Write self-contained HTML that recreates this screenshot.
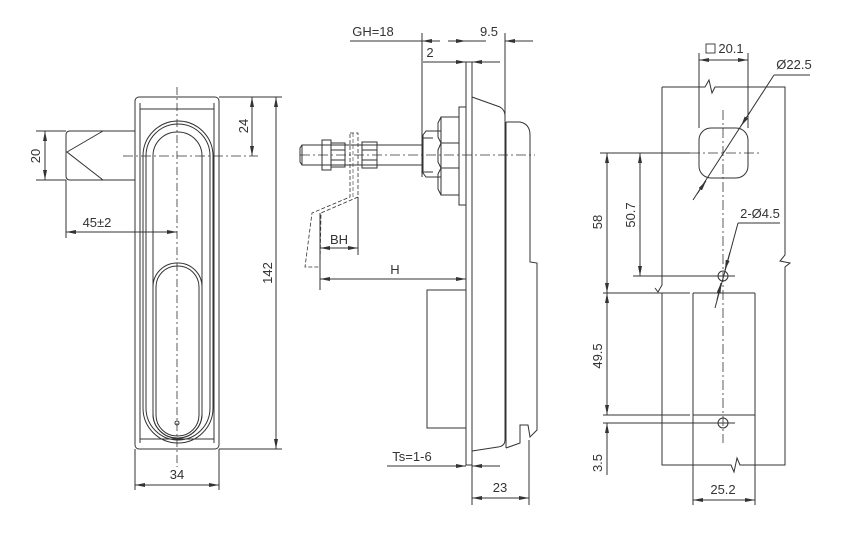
<!DOCTYPE html>
<html><head><style>
html,body{margin:0;padding:0;background:#fff;}
svg{display:block;}
text{font-family:"Liberation Sans",sans-serif;font-size:13px;fill:#333;}
</style></head><body>
<svg width="843" height="534" viewBox="0 0 843 534" xmlns="http://www.w3.org/2000/svg">
<defs>
<marker id="a" viewBox="0 0 10 4" refX="10" refY="2" markerWidth="10" markerHeight="4" markerUnits="userSpaceOnUse" orient="auto-start-reverse"><path d="M0,0 L10,2 L0,4 z" fill="#333"/></marker>
</defs>
<g fill="none" stroke="#333" stroke-width="1">
<!-- LEFT VIEW -->
<rect x="135" y="97" width="84" height="352" rx="4"/>
<line x1="140" y1="103" x2="140" y2="443"/><line x1="214" y1="103" x2="214" y2="443"/>
<line x1="140" y1="109" x2="214" y2="109"/><line x1="140" y1="439" x2="214" y2="439"/>
<rect x="143" y="121" width="70" height="322" rx="35"/>
<rect x="146" y="124" width="64" height="316" rx="32"/>
<rect x="153" y="132" width="49" height="306" rx="24"/>
<rect x="153" y="263" width="49" height="175" rx="24"/>
<rect x="156" y="266" width="43" height="170" rx="21"/>
<circle cx="177" cy="423" r="2"/>
<line x1="177" y1="87" x2="177" y2="467" stroke-dasharray="8,3,2,3" stroke-width="0.8"/>
<line x1="123" y1="156" x2="258" y2="156" stroke-dasharray="10,3,2,3" stroke-width="0.8"/>
<path d="M135,131 L70,131 Q66,131 66,135 L66,176 Q66,180 70,180 L135,180"/>
<path d="M103,131 L67,152 L103,180"/>
<line x1="36" y1="131" x2="66" y2="131"/><line x1="36" y1="180" x2="66" y2="180"/>
<line x1="45" y1="131" x2="45" y2="180" marker-start="url(#a)" marker-end="url(#a)"/>
<line x1="219" y1="97" x2="282" y2="97"/><line x1="219" y1="449" x2="282" y2="449"/>
<line x1="252" y1="97" x2="252" y2="156" marker-start="url(#a)" marker-end="url(#a)"/>
<line x1="276" y1="97" x2="276" y2="449" marker-start="url(#a)" marker-end="url(#a)"/>
<line x1="66" y1="180" x2="66" y2="238"/>
<line x1="66" y1="232" x2="177" y2="232" marker-start="url(#a)" marker-end="url(#a)"/>
<line x1="135" y1="449" x2="135" y2="490"/><line x1="219" y1="449" x2="219" y2="490"/>
<line x1="135" y1="485" x2="219" y2="485" marker-start="url(#a)" marker-end="url(#a)"/>

<!-- MIDDLE VIEW -->
<rect x="466" y="62" width="6" height="403"/>
<path d="M472,97 L500,107 Q505,110 505,116 L505,440 Q505,446 498,447 L472,451"/>
<path d="M506,122 L520,122 Q530,124 530,135 L530,262 L537,263 L537,430 L530,437 L528,425 L520,425 L520,443 L506,448"/>
<line x1="506" y1="122" x2="506" y2="448"/>
<rect x="459" y="107" width="7" height="98"/>
<path d="M459,117 L441,117 L438,123 L438,137 L441,143 L438,150 L438,162 L441,168 L438,174 L438,189 L441,195 L459,195"/>
<line x1="441" y1="117" x2="441" y2="195"/>
<line x1="441" y1="143" x2="459" y2="143"/><line x1="441" y1="168" x2="459" y2="168"/>
<path d="M441,131 L426,131 L423,135 L423,173 L426,177 L441,177"/>
<path d="M422,138 L433,138 M422,172 L433,172"/>
<line x1="422" y1="133" x2="422" y2="177"/>
<path d="M422,145 L302,145 L300,148 L300,162 L302,165 L422,165"/>
<line x1="302" y1="145" x2="302" y2="165"/>
<rect x="322" y="140" width="9" height="30"/><rect x="331" y="143" width="14" height="24"/>
<line x1="331" y1="150" x2="345" y2="150"/><line x1="331" y1="160" x2="345" y2="160"/>
<rect x="362" y="142" width="15" height="26"/>
<line x1="362" y1="150" x2="377" y2="150"/><line x1="362" y1="160" x2="377" y2="160"/>
<line x1="300" y1="155" x2="535" y2="155" stroke-dasharray="10,3,2,3" stroke-width="0.8"/>
<path d="M350,133 L358,133 L358,197 L321,213 L320,267 L305,267 L312,213 L350,197 Z" stroke-dasharray="4,2" stroke-width="0.8"/>
<line x1="353" y1="133" x2="353" y2="197" stroke-dasharray="4,2" stroke-width="0.6"/>
<line x1="358" y1="197" x2="358" y2="255"/>
<line x1="320" y1="213" x2="320" y2="290"/>
<line x1="320" y1="248" x2="358" y2="248" marker-start="url(#a)" marker-end="url(#a)"/>
<line x1="320" y1="279" x2="466" y2="279" marker-start="url(#a)" marker-end="url(#a)"/>
<path d="M466,290 L427,290 L427,428 L466,428"/>
<line x1="422" y1="33" x2="422" y2="133"/>
<line x1="505" y1="33" x2="505" y2="116"/>
<line x1="350" y1="41" x2="422" y2="41"/>
<line x1="422" y1="41" x2="440" y2="41" marker-start="url(#a)"/>
<line x1="448" y1="41" x2="466" y2="41" marker-end="url(#a)"/>
<line x1="466" y1="41" x2="472" y2="41"/>
<line x1="533" y1="41" x2="505" y2="41" marker-end="url(#a)"/>
<line x1="472" y1="41" x2="486" y2="41"/>
<line x1="423" y1="62" x2="466" y2="62" marker-end="url(#a)"/>
<line x1="500" y1="62" x2="472" y2="62" marker-end="url(#a)"/>
<line x1="387" y1="466" x2="466" y2="466" marker-end="url(#a)"/>
<line x1="500" y1="466" x2="472" y2="466" marker-end="url(#a)"/>
<line x1="472" y1="465" x2="472" y2="505"/><line x1="529" y1="440" x2="529" y2="505"/>
<line x1="472" y1="498" x2="529" y2="498" marker-start="url(#a)" marker-end="url(#a)"/>

<!-- RIGHT VIEW -->
<path d="M662,87 L705,87 L709,80 L712,93 L715,87 L785,87 L785,255 L780,261 L790,263 L785,267 L785,465 L740,465 L737,458 L734,472 L731,465 L662,465 L662,293"/>
<path d="M662,87 L662,285 L658,292 L655,288"/>
<line x1="603" y1="293" x2="690" y2="293"/>
<line x1="693" y1="293" x2="755" y2="293"/>
<line x1="693" y1="293" x2="693" y2="505"/><line x1="755" y1="293" x2="755" y2="505"/>
<line x1="693" y1="415" x2="755" y2="415"/>
<rect x="699" y="128" width="49" height="50" rx="12"/>
<line x1="699" y1="53" x2="699" y2="128"/><line x1="748" y1="53" x2="748" y2="128"/>
<line x1="699" y1="60" x2="748" y2="60" marker-start="url(#a)" marker-end="url(#a)"/>
<rect x="706" y="44" width="9" height="9" stroke-width="0.9"/>
<line x1="723" y1="110" x2="723" y2="443" stroke-dasharray="10,3,2,3" stroke-width="0.8"/>
<line x1="600" y1="153" x2="762" y2="153" stroke-dasharray="10,3,2,3" stroke-width="0.8"/>
<line x1="693" y1="200" x2="774" y2="75"/>
<line x1="774" y1="75" x2="810" y2="75"/>
<line x1="697" y1="194" x2="706" y2="181" marker-end="url(#a)"/>
<line x1="750" y1="112" x2="741" y2="126" marker-end="url(#a)"/>
<circle cx="723" cy="276" r="5"/><circle cx="723" cy="423" r="5"/>
<line x1="715" y1="308" x2="738" y2="223"/><line x1="738" y1="223" x2="780" y2="223"/>
<line x1="730" y1="252" x2="725" y2="270" marker-end="url(#a)"/>
<line x1="717" y1="300" x2="721" y2="283" marker-end="url(#a)"/>
<line x1="633" y1="276" x2="735" y2="276"/>
<line x1="603" y1="423" x2="735" y2="423"/>
<line x1="603" y1="415" x2="690" y2="415"/>
<line x1="600" y1="153" x2="690" y2="153"/>
<line x1="607" y1="153" x2="607" y2="293" marker-start="url(#a)" marker-end="url(#a)"/>
<line x1="640" y1="153" x2="640" y2="276" marker-start="url(#a)" marker-end="url(#a)"/>
<line x1="607" y1="293" x2="607" y2="415" marker-start="url(#a)" marker-end="url(#a)"/>
<line x1="607" y1="475" x2="607" y2="423" marker-end="url(#a)"/>
<line x1="693" y1="500" x2="755" y2="500" marker-start="url(#a)" marker-end="url(#a)"/>
</g>
<text x="36" y="156" text-anchor="middle" transform="rotate(-90 36 156)" dy="4">20</text>
<text x="244" y="126" text-anchor="middle" transform="rotate(-90 244 126)" dy="4">24</text>
<text x="268" y="273" text-anchor="middle" transform="rotate(-90 268 273)" dy="4">142</text>
<text x="97" y="227" text-anchor="middle">45±2</text>
<text x="177" y="479" text-anchor="middle">34</text>
<text x="373" y="36" text-anchor="middle">GH=18</text>
<text x="489" y="36" text-anchor="middle">9.5</text>
<text x="430" y="57" text-anchor="middle">2</text>
<text x="339" y="244" text-anchor="middle">BH</text>
<text x="395" y="274" text-anchor="middle">H</text>
<text x="412" y="461" text-anchor="middle">Ts=1-6</text>
<text x="500" y="492" text-anchor="middle">23</text>
<text x="731" y="53" text-anchor="middle">20.1</text>
<text x="794" y="69" text-anchor="middle">Ø22.5</text>
<text x="760" y="218" text-anchor="middle">2-Ø4.5</text>
<text x="598" y="222" text-anchor="middle" transform="rotate(-90 598 222)" dy="4">58</text>
<text x="631" y="215" text-anchor="middle" transform="rotate(-90 631 215)" dy="4">50.7</text>
<text x="598" y="356" text-anchor="middle" transform="rotate(-90 598 356)" dy="4">49.5</text>
<text x="598" y="463" text-anchor="middle" transform="rotate(-90 598 463)" dy="4">3.5</text>
<text x="723" y="494" text-anchor="middle">25.2</text>
</svg>
</body></html>
